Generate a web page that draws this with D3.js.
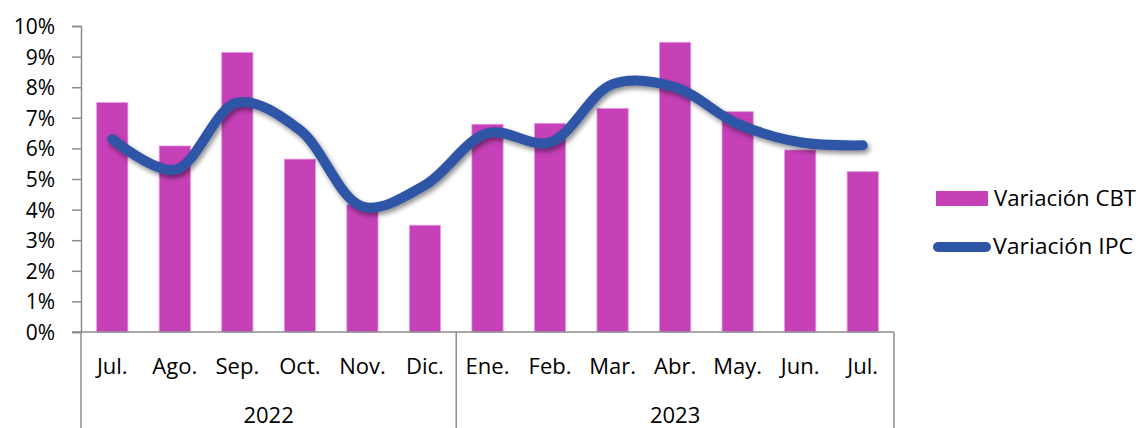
<!DOCTYPE html>
<html>
<head>
<meta charset="utf-8">
<script src="https://cdn.jsdelivr.net/npm/d3@7"></script>
<style>
  body { margin: 0; background: #fff; }
  text { font-family: "Open Sans", sans-serif; fill: #000; }
</style>
</head>
<body>
<svg id="chart" width="1143" height="428"></svg>
<script>
const months = ["Jul.", "Ago.", "Sep.", "Oct.", "Nov.", "Dic.", "Ene.", "Feb.", "Mar.", "Abr.", "May.", "Jun.", "Jul."]
const years = [{label: "2022", from: 0, to: 6}, {label: "2023", from: 6, to: 13}]
const cbt = [7.5, 6.08, 9.14, 5.65, 4.16, 3.49, 6.79, 6.82, 7.31, 9.47, 7.2, 5.95, 5.24]
const ipc = [6.3, 5.3, 7.5, 6.6, 4.1, 4.8, 6.5, 6.2, 8.1, 8.0, 6.8, 6.2, 6.1]
const yTicks = [0, 1, 2, 3, 4, 5, 6, 7, 8, 9, 10]

const svg = d3.select("#chart")
const plotLeft = 81, plotRight = 894, plotTop = 26, plotBottom = 332

const x = d3.scaleBand()
    .domain(d3.range(months.length))
    .range([plotLeft, plotRight])
    .paddingInner(0.5)
    .paddingOuter(0.25)

const y = d3.scaleLinear()
    .domain([0, 10])
    .range([plotBottom, plotTop])

// edge of a category group
function groupEdge(i) {
    if (i === 0) return plotLeft
    if (i === months.length) return plotRight
    return x(i) - x.step() * x.paddingInner() / 2
}

// shadow for the line
const defs = svg.append("defs")
const f = defs.append("filter").attr("id", "shadow")
    .attr("x", "-10%").attr("y", "-20%").attr("width", "120%").attr("height", "140%")
f.append("feDropShadow")
    .attr("dx", 2).attr("dy", 3).attr("stdDeviation", 2.5)
    .attr("flood-color", "#000").attr("flood-opacity", 0.45)

// y axis
const yAxis = d3.axisLeft(y)
    .tickValues(yTicks)
    .tickFormat(d => d + "%")
    .tickSize(9)
    .tickPadding(17)

const gy = svg.append("g")
    .attr("transform", `translate(${plotLeft},0)`)
    .call(yAxis)
gy.select(".domain").attr("stroke", "#8c8c8c").attr("stroke-width", 1.5)
gy.selectAll(".tick line").attr("stroke", "#8c8c8c").attr("stroke-width", 1.5)
gy.selectAll(".tick text")
    .style("font-size", "21px")
    .attr("fill", "#000")
    .attr("dy", "0.36em")

// bars
svg.append("g").selectAll("rect")
    .data(cbt)
    .enter()
    .append("rect")
    .attr("x", (d, i) => x(i))
    .attr("width", x.bandwidth())
    .attr("y", d => y(d))
    .attr("height", d => y(0) - y(d))
    .attr("fill", "#c640b8")
    .attr("stroke", "#e59ee0")
    .attr("stroke-width", 0.8)

// bottom axis with category groups
const axisG = svg.append("g").attr("stroke", "#8c8c8c").attr("stroke-width", 1.5)
axisG.append("line")
    .attr("x1", plotLeft - 9).attr("x2", plotRight)
    .attr("y1", plotBottom).attr("y2", plotBottom)
const seps = [0].concat(years.map(d => d.to))
axisG.selectAll("line.sep")
    .data(seps)
    .enter()
    .append("line")
    .attr("class", "sep")
    .attr("x1", d => groupEdge(d))
    .attr("x2", d => groupEdge(d))
    .attr("y1", plotBottom).attr("y2", 440)

svg.append("g").selectAll("text")
    .data(months)
    .enter()
    .append("text")
    .attr("x", (d, i) => x(i) + x.bandwidth() / 2)
    .attr("y", 374)
    .attr("text-anchor", "middle")
    .style("font-size", "22px")
    .text(d => d)

svg.append("g").selectAll("text")
    .data(years)
    .enter()
    .append("text")
    .attr("x", d => (groupEdge(d.from) + groupEdge(d.to)) / 2)
    .attr("y", 423)
    .attr("text-anchor", "middle")
    .style("font-size", "22px")
    .text(d => d.label)

// IPC line
const line = d3.line()
    .x((d, i) => x(i) + x.bandwidth() / 2)
    .y(d => y(d))
    .curve(d3.curveCatmullRom.alpha(0.5))

svg.append("path")
    .datum(ipc)
    .attr("d", line)
    .attr("fill", "none")
    .attr("stroke", "#2e54a6")
    .attr("stroke-width", 10)
    .attr("stroke-linecap", "round")
    .attr("filter", "url(#shadow)")

// legend
const lg = svg.append("g")
lg.append("rect")
    .attr("x", 936).attr("y", 191)
    .attr("width", 52).attr("height", 15)
    .attr("fill", "#c640b8")
lg.append("text")
    .attr("x", 994).attr("y", 206)
    .style("font-size", "22px")
    .attr("textLength", 142)
    .attr("lengthAdjust", "spacingAndGlyphs")
    .text("Variación CBT")
lg.append("line")
    .attr("x1", 938).attr("x2", 986)
    .attr("y1", 247).attr("y2", 247)
    .attr("stroke", "#2e54a6")
    .attr("stroke-width", 10)
    .attr("stroke-linecap", "round")
lg.append("text")
    .attr("x", 993).attr("y", 254)
    .style("font-size", "22px")
    .attr("textLength", 140)
    .attr("lengthAdjust", "spacingAndGlyphs")
    .text("Variación IPC")
</script>
</body>
</html>
